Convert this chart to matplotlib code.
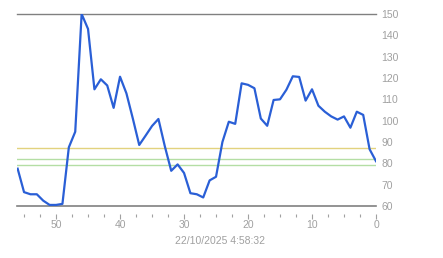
import numpy as np
import matplotlib
matplotlib.use('Agg')
from matplotlib import pyplot as plt
from matplotlib.ticker import MultipleLocator

# minutes ago (reversed axis) and reading
minutes = list(range(56, -1, -1))
values = [77.5, 66.5, 65.5, 65.5, 62.5, 60.5, 60.5, 61.0, 87.5, 94.8,
          150.0, 143.0, 114.7, 119.4, 116.5, 106.0, 120.6, 112.8, 101.0, 88.6,
          93.0, 97.5, 100.8, 88.0, 76.5, 79.5, 75.5, 66.0, 65.5, 64.0,
          72.0, 73.7, 90.0, 99.5, 98.5, 117.5, 116.8, 115.2, 101.0, 97.6,
          109.7, 110.0, 114.5, 120.8, 120.5, 109.4, 114.7, 107.0, 104.2, 102.0,
          100.5, 102.0, 96.7, 104.2, 102.7, 86.6, 81.0]

# reference levels
upper_limit = 150
warn_level = 87
band_levels = [82, 79]
timestamp = '22/10/2025 4:58:32'

W, H = 443, 258
fig = plt.figure(figsize=(W / 100, H / 100), dpi=100)
ax = fig.add_axes([17 / W, 1 - 206 / H, (376 - 17) / W, (206 - 14) / H])

label_font = dict(family='Liberation Sans', size=7.5, color='#a0a0a0')

ax.axhline(upper_limit, color='#808080', lw=1, clip_on=False, zorder=1)
ax.axhline(60, color='#808080', lw=1.2, clip_on=False, zorder=1)
ax.axhline(warn_level, color='#e2d27e', lw=1, zorder=1)
for lvl in band_levels:
    ax.axhline(lvl, color='#b4dea4', lw=1, zorder=1)

ax.plot(minutes, values, color='#2a5fd6', lw=1.6, zorder=3, solid_joinstyle='round')

ax.set_xlim(56.1, 0)
ax.set_ylim(60, 150)

for s in ['top', 'left', 'right']:
    ax.spines[s].set_visible(False)
ax.spines['bottom'].set_position(('outward', 6))
ax.spines['bottom'].set_color('none')

ax.xaxis.set_major_locator(MultipleLocator(10))
ax.xaxis.set_minor_locator(MultipleLocator(2.5))
ax.tick_params(axis='x', which='major', length=3.5, width=0.8, color='#a0a0a0', pad=0.5)
ax.tick_params(axis='x', which='minor', length=2, width=0.8, color='#a0a0a0')

ax.yaxis.tick_right()
ax.yaxis.set_major_locator(MultipleLocator(10))
ax.tick_params(axis='y', length=0, pad=4)

for lab in ax.get_xticklabels() + ax.get_yticklabels():
    lab.set_fontfamily(label_font['family'])
    lab.set_fontsize(label_font['size'])
    lab.set_color(label_font['color'])

fig.text(220 / W, 1 - 241 / H, timestamp, ha='center', va='center', **label_font)

fig.savefig('out.png', dpi=100)
